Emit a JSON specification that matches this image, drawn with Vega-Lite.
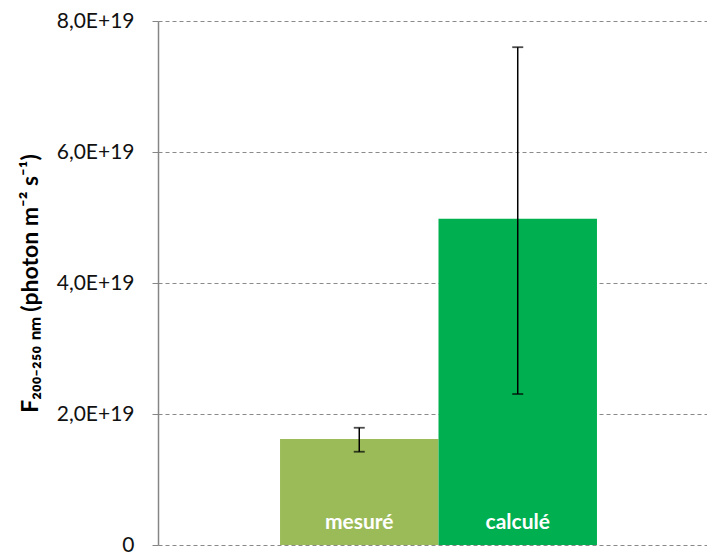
{
  "$schema": "https://vega.github.io/schema/vega-lite/v6.json",
  "autosize": "none",
  "width": 561,
  "height": 524,
  "padding": {"left": 158, "top": 21, "right": 0, "bottom": 8},
  "background": "white",
  "config": {"view": {"stroke": null}, "font": "Lato"},
  "data": {
    "values": [
      {"cat": "mesuré", "value": 1.62e19, "lo": 1.424e19, "hi": 1.79e19, "color": "#9BBB59"},
      {"cat": "calculé", "value": 4.98e19, "lo": 2.305e19, "hi": 7.6e19, "color": "#00B050"}
    ]
  },
  "encoding": {
    "x": {
      "field": "cat",
      "type": "nominal",
      "sort": ["mesuré", "calculé"],
      "scale": {"paddingInner": 0, "paddingOuter": 0.77},
      "axis": null
    }
  },
  "layer": [
    {
      "mark": {"type": "bar"},
      "encoding": {
        "y": {
          "field": "value",
          "type": "quantitative",
          "scale": {"domain": [0, 8e19], "nice": false},
          "axis": {
            "values": [0, 2e19, 4e19, 6e19, 8e19],
            "labelExpr": "datum.value == 0 ? '0' : upper(replace(format(datum.value, '.1e'), '.', ','))",
            "labelFont": "Lato",
            "labelFontSize": 21,
            "labelColor": "#111111",
            "labelPadding": 18,
            "domainColor": "#868686",
            "domainWidth": 1.5,
            "tickColor": "#868686",
            "tickSize": 6,
            "grid": true,
            "gridColor": "#8a8a8a",
            "gridDash": [4, 3],
            "gridWidth": 1,
            "title": "F₂₀₀₋₂₅₀ ₙₘ (photon m⁻² s⁻¹)",
            "titleFont": "Lato",
            "titleFontSize": 23,
            "titleFontWeight": "bold",
            "titleColor": "#000000",
            "titlePadding": 14
          }
        },
        "color": {"field": "color", "type": "nominal", "scale": null}
      }
    },
    {
      "mark": {"type": "rule", "color": "black", "strokeWidth": 1.5},
      "encoding": {
        "y": {"field": "lo", "type": "quantitative"},
        "y2": {"field": "hi"}
      }
    },
    {
      "mark": {"type": "tick", "color": "black", "size": 11, "thickness": 1.8, "orient": "horizontal"},
      "encoding": {"y": {"field": "lo", "type": "quantitative"}}
    },
    {
      "mark": {"type": "tick", "color": "black", "size": 11, "thickness": 1.8, "orient": "horizontal"},
      "encoding": {"y": {"field": "hi", "type": "quantitative"}}
    },
    {
      "mark": {"type": "text", "color": "white", "fontWeight": "bold", "fontSize": 21, "font": "Lato", "baseline": "bottom", "dy": -12},
      "encoding": {
        "y": {"datum": 0, "type": "quantitative"},
        "text": {"field": "cat"}
      }
    }
  ]
}
